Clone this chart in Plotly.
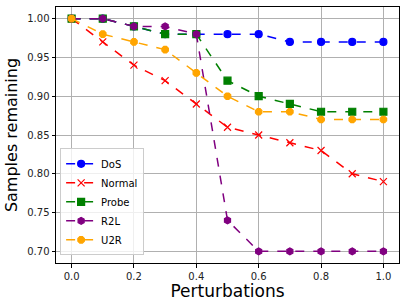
import plotly.graph_objects as go

x = [0.0, 0.1, 0.2, 0.3, 0.4, 0.5, 0.6, 0.7, 0.8, 0.9, 1.0]
dos = [1.00, 1.00, 0.99, 0.98, 0.98, 0.98, 0.98, 0.97, 0.97, 0.97, 0.97]
normal = [1.00, 0.97, 0.94, 0.92, 0.89, 0.86, 0.85, 0.84, 0.83, 0.80, 0.79]
probe = [1.00, 1.00, 0.99, 0.98, 0.98, 0.92, 0.90, 0.89, 0.88, 0.88, 0.88]
r2l = [1.00, 1.00, 0.99, 0.99, 0.98, 0.74, 0.70, 0.70, 0.70, 0.70, 0.70]
u2r = [1.00, 0.98, 0.97, 0.96, 0.93, 0.90, 0.88, 0.88, 0.87, 0.87, 0.87]

x_ticks = [0.0, 0.2, 0.4, 0.6, 0.8, 1.0]
y_ticks = [0.70, 0.75, 0.80, 0.85, 0.90, 0.95, 1.00]

series = [
    ("DoS", dos, "blue", "circle", 7),
    ("Normal", normal, "red", "x-thin-open", 7),
    ("Probe", probe, "green", "square", 7),
    ("R2L", r2l, "purple", "hexagon", 7),
    ("U2R", u2r, "orange", "octagon", 7),
]

fig = go.Figure()
for name, y, color, sym, size in series:
    fig.add_trace(go.Scatter(
        x=x, y=y, name=name, mode="lines+markers",
        line=dict(color=color, width=1.5, dash="dash"),
        marker=dict(symbol=sym, size=size, color=color,
                    line=dict(color=color, width=1.2)),
    ))

axis_common = dict(
    showgrid=True, gridcolor="#b0b0b0", gridwidth=0.8,
    showline=True, linecolor="black", linewidth=1, mirror=True,
    ticks="outside", ticklen=3.5, tickcolor="black",
    tickfont=dict(size=10, color="#222"), zeroline=False,
    automargin=False,
)

fig.update_layout(
    width=406, height=306,
    margin=dict(l=56, r=7, t=7, b=43),
    paper_bgcolor="white", plot_bgcolor="white",
    font=dict(family="DejaVu Sans", color="black"),
    xaxis=dict(range=[-0.05, 1.05], tickvals=x_ticks,
               ticktext=[f"{v:.1f}" for v in x_ticks],
               title=dict(text="Perturbations", font=dict(size=17), standoff=2),
               **axis_common),
    yaxis=dict(range=[0.685, 1.015], tickvals=y_ticks,
               ticktext=[f"{v:.2f}" for v in y_ticks],
               title=dict(text="Samples remaining", font=dict(size=16), standoff=5),
               **axis_common),
    legend=dict(x=0.012, y=0.03, xanchor="left", yanchor="bottom",
                bgcolor="rgba(255,255,255,0.8)", bordercolor="#cccccc",
                borderwidth=1, font=dict(size=10), tracegroupgap=0,
                itemwidth=30),
    showlegend=True,
)

fig.write_html("out.html",
               config={"displayModeBar": False},
               post_script="document.body.style.margin='0';document.body.style.overflow='hidden';")
